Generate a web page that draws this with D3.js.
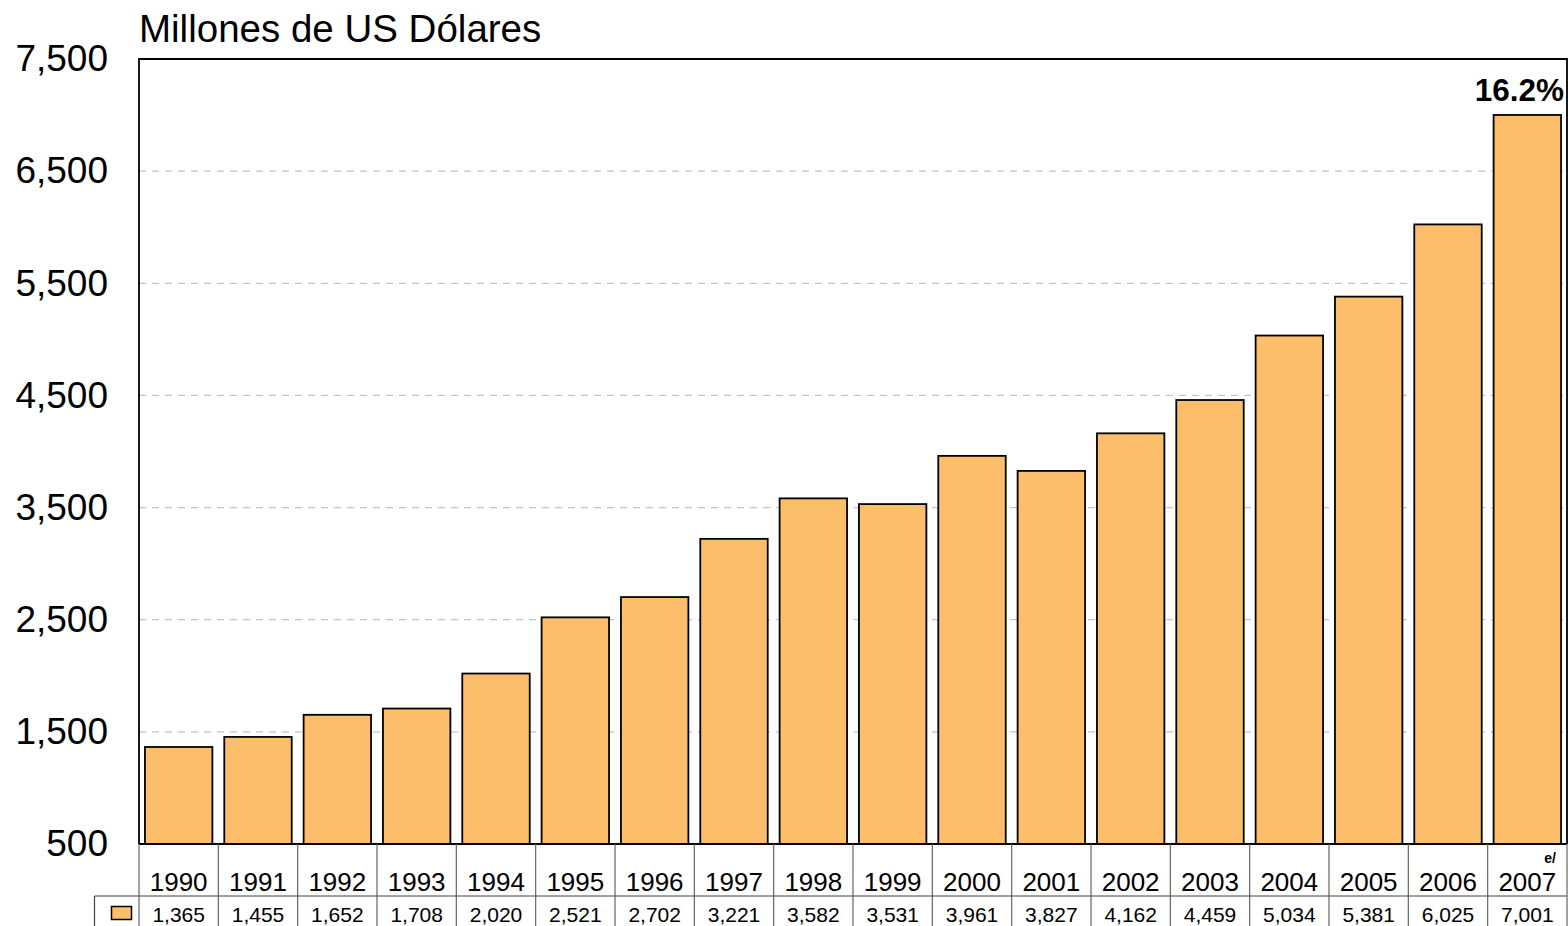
<!DOCTYPE html>
<html>
<head>
<meta charset="utf-8">
<script src="https://cdn.jsdelivr.net/npm/d3@7"></script>
<style>
  body { margin: 0; background: #fff; }
  text { font-family: "Liberation Sans", Arial, sans-serif; fill: #000; }
</style>
</head>
<body>
<div id="chart"></div>
<script>
// data
let years = ["1990", "1991", "1992", "1993", "1994", "1995", "1996", "1997", "1998",
             "1999", "2000", "2001", "2002", "2003", "2004", "2005", "2006", "2007"];
let values = [1365, 1455, 1652, 1708, 2020, 2521, 2702, 3221, 3582,
              3531, 3961, 3827, 4162, 4459, 5034, 5381, 6025, 7001];
let yTicks = [500, 1500, 2500, 3500, 4500, 5500, 6500, 7500];
let growthLabel = "16.2%";
let estimateMark = "e/";
let unitTitle = "Millones de US Dólares";

let svgWidth = 1568;
let svgHeight = 926;

// plot area
let margin = { top: 59, right: 1, bottom: 82, left: 139 };
let width = svgWidth - margin.left - margin.right;
let height = svgHeight - margin.top - margin.bottom;

let svg = d3.select("#chart")
    .append("svg")
    .attr("width", svgWidth)
    .attr("height", svgHeight);

let g = svg.append("g")
    .attr("transform", `translate(${margin.left}, ${margin.top})`);

let x = d3.scaleBand()
    .domain(years)
    .range([0, width])
    .paddingInner(0.15)
    .paddingOuter(0.075);

let y = d3.scaleLinear()
    .domain([500, 7500])
    .range([height, 0]);

// dashed gridlines
g.selectAll(".grid")
    .data(yTicks.filter(d => d > 500 && d < 7500))
    .enter()
    .append("line")
    .attr("x1", 0)
    .attr("x2", width)
    .attr("y1", d => y(d))
    .attr("y2", d => y(d))
    .attr("stroke", "#c4c4c4")
    .attr("stroke-width", 1.2)
    .attr("stroke-dasharray", "7,6");

// y axis labels
let leftAxis = d3.axisLeft(y)
    .tickValues(yTicks)
    .tickFormat(d3.format(","))
    .tickSize(0)
    .tickPadding(31);

let yAxis = g.append("g").call(leftAxis);
yAxis.select(".domain").remove();
yAxis.selectAll("text")
    .attr("font-size", 37)
    .attr("font-family", "Liberation Sans, Arial, sans-serif")
    .attr("fill", "#000");

// bars
g.selectAll(".bar")
    .data(values)
    .enter()
    .append("rect")
    .attr("x", (d, i) => x(years[i]))
    .attr("y", d => y(d))
    .attr("width", x.bandwidth())
    .attr("height", d => height - y(d))
    .attr("fill", "#fdbe6b")
    .attr("stroke", "#000")
    .attr("stroke-width", 1.8);

// plot frame
g.append("path")
    .attr("d", `M0,${height}V0H${width}V${height}`)
    .attr("fill", "none")
    .attr("stroke", "#000")
    .attr("stroke-width", 1.8);

g.append("line")
    .attr("x1", 0)
    .attr("x2", width)
    .attr("y1", height)
    .attr("y2", height)
    .attr("stroke", "#000")
    .attr("stroke-width", 1.8);

// growth label over the last bar
g.append("text")
    .attr("x", x(years[years.length - 1]) + x.bandwidth() + 3)
    .attr("y", y(values[values.length - 1]) - 14)
    .attr("text-anchor", "end")
    .attr("font-size", 31.5)
    .attr("font-weight", "bold")
    .text(growthLabel);

// unit title
svg.append("text")
    .attr("x", 139)
    .attr("y", 42)
    .attr("font-size", 38.5)
    .text(unitTitle);

// data table below the plot
let table = g.append("g").attr("transform", `translate(0, ${height})`);
let rowLine = 896 - margin.top - height;

table.selectAll(".vline")
    .data(d3.range(years.length + 1))
    .enter()
    .append("line")
    .attr("x1", i => i * x.step())
    .attr("x2", i => i * x.step())
    .attr("y1", 0)
    .attr("y2", svgHeight)
    .attr("stroke", "#666")
    .attr("stroke-width", 1.2);

table.append("line")
    .attr("x1", 94.5 - margin.left)
    .attr("x2", width)
    .attr("y1", rowLine)
    .attr("y2", rowLine)
    .attr("stroke", "#444")
    .attr("stroke-width", 1.2);

table.append("line")
    .attr("x1", 94.5 - margin.left)
    .attr("x2", 94.5 - margin.left)
    .attr("y1", rowLine)
    .attr("y2", svgHeight)
    .attr("stroke", "#444")
    .attr("stroke-width", 1.2);

table.selectAll(".year")
    .data(years)
    .enter()
    .append("text")
    .attr("x", (d, i) => (i + 0.5) * x.step())
    .attr("y", rowLine - 5)
    .attr("text-anchor", "middle")
    .attr("font-size", 26)
    .text(d => d);

table.selectAll(".val")
    .data(values)
    .enter()
    .append("text")
    .attr("x", (d, i) => (i + 0.5) * x.step())
    .attr("y", rowLine + 25.5)
    .attr("text-anchor", "middle")
    .attr("font-size", 21)
    .text(d => d3.format(",")(d));

table.append("text")
    .attr("x", years.length * x.step() - 11)
    .attr("y", 19)
    .attr("text-anchor", "end")
    .attr("font-size", 14)
    .attr("font-weight", "bold")
    .text(estimateMark);

// legend key in the table
table.append("rect")
    .attr("x", 111.5 - margin.left)
    .attr("y", rowLine + 10.5)
    .attr("width", 20)
    .attr("height", 13)
    .attr("fill", "#fdbe6b")
    .attr("stroke", "#000")
    .attr("stroke-width", 1.5);
</script>
</body>
</html>
